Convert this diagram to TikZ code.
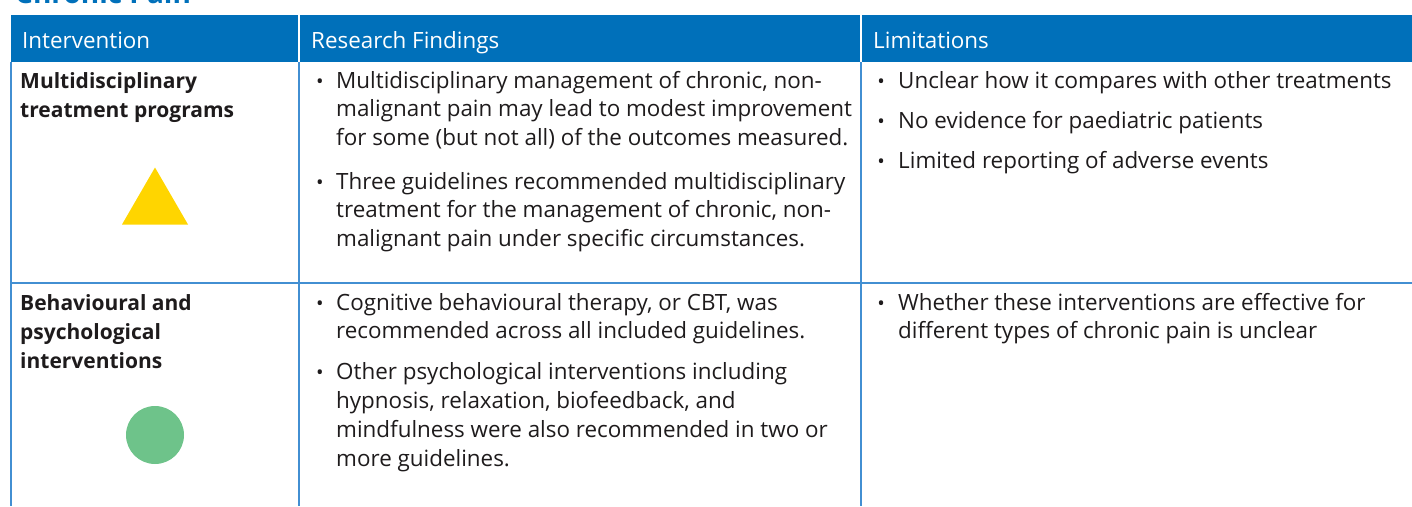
\documentclass[tikz,border=0pt]{standalone}
\usepackage{fontspec}
\setmainfont{Open Sans}
\definecolor{hdrblue}{RGB}{0,112,186}
\definecolor{gridblue}{RGB}{66,143,210}
\definecolor{txtgray}{RGB}{30,27,28}
\definecolor{triyellow}{RGB}{255,213,0}
\definecolor{dotgreen}{RGB}{110,195,138}
\tikzset{
  txt/.style={anchor=base west, inner sep=0pt, text=txtgray, font=\fontsize{22.4}{28}\selectfont},
  lbl/.style={txt, font=\fontsize{21}{28}\selectfont\bfseries},
  hdr/.style={anchor=base west, inner sep=0pt, text=white, font=\fontsize{22.4}{28}\selectfont},
  bul/.style={anchor=base, inner sep=0pt, text=txtgray, font=\fontsize{20}{24}\selectfont},
  gridline/.style={draw=gridblue, line width=1.5pt},
}
\begin{document}
\begin{tikzpicture}[x=1pt,y=-1pt]
\useasboundingbox (0,0) rectangle (1412,506);
% title (cut off at top, as in the reference)
\node[anchor=base west, inner sep=0pt, text=hdrblue, font=\fontsize{28}{32}\selectfont\bfseries] (title) at (15,3) {Chronic Pain};
% header
\fill[hdrblue] (11,15) rectangle (1412,62);
\draw[white, line width=1.2pt] (299,15) -- (299,62);
\draw[white, line width=1.2pt] (861,15) -- (861,62);
\node[hdr] (h1) at (22,48) {Intervention};
\node[hdr] (h2) at (311,48) {Research Findings};
\node[hdr] (h3) at (873,48) {Limitations};
% grid
\draw[gridline] (11,62) -- (11,506);
\draw[gridline] (299,62) -- (299,506);
\draw[gridline] (861,62) -- (861,506);
\draw[gridline] (11,283) -- (1412,283);
% row 1, column 1
\node[lbl] (r1a) at (20,88) {Multidisciplinary};
\node[lbl] (r1b) at (20,117) {treatment programs};
\fill[triyellow] (155,167.5) -- (188,224.5) -- (122,224.5) -- cycle;
% row 1, column 2
\node[bul] (b1) at (320,88) {•};
\node[txt] (r1c2a) at (336,88) {Multidisciplinary management of chronic, non-};
\node[txt] (r1c2b) at (336,116.5) {malignant pain may lead to modest improvement};
\node[txt] (r1c2c) at (336,145) {for some (but not all) of the outcomes measured.};
\node[bul] (b2) at (320,189) {•};
\node[txt] (r1c2d) at (336,189) {Three guidelines recommended multidisciplinary};
\node[txt] (r1c2e) at (336,217.5) {treatment for the management of chronic, non-};
\node[txt] (r1c2f) at (336,246) {malignant pain under specific circumstances.};
% row 1, column 3
\node[bul] (b3) at (881,88) {•};
\node[txt] (r1c3a) at (898,88) {Unclear how it compares with other treatments};
\node[bul] (b4) at (881,128) {•};
\node[txt] (r1c3b) at (898,128) {No evidence for paediatric patients};
\node[bul] (b5) at (881,168) {•};
\node[txt] (r1c3c) at (898,168) {Limited reporting of adverse events};
% row 2, column 1
\node[lbl] (r2a) at (20,310) {Behavioural and};
\node[lbl] (r2b) at (20,339) {psychological};
\node[lbl] (r2c) at (20,368) {interventions};
\fill[dotgreen] (155,435) circle (29);
% row 2, column 2
\node[bul] (b6) at (320,310) {•};
\node[txt] (r2c2a) at (336,310) {Cognitive behavioural therapy, or CBT, was};
\node[txt] (r2c2b) at (336,338.5) {recommended across all included guidelines.};
\node[bul] (b7) at (320,379) {•};
\node[txt] (r2c2c) at (336,379) {Other psychological interventions including};
\node[txt] (r2c2d) at (336,408) {hypnosis, relaxation, biofeedback, and};
\node[txt] (r2c2e) at (336,437) {mindfulness were also recommended in two or};
\node[txt] (r2c2f) at (336,466) {more guidelines.};
% row 2, column 3
\node[bul] (b8) at (881,310) {•};
\node[txt] (r2c3a) at (898,310) {Whether these interventions are effective for};
\node[txt] (r2c3b) at (898,338.5) {different types of chronic pain is unclear};
\end{tikzpicture}
\end{document}
